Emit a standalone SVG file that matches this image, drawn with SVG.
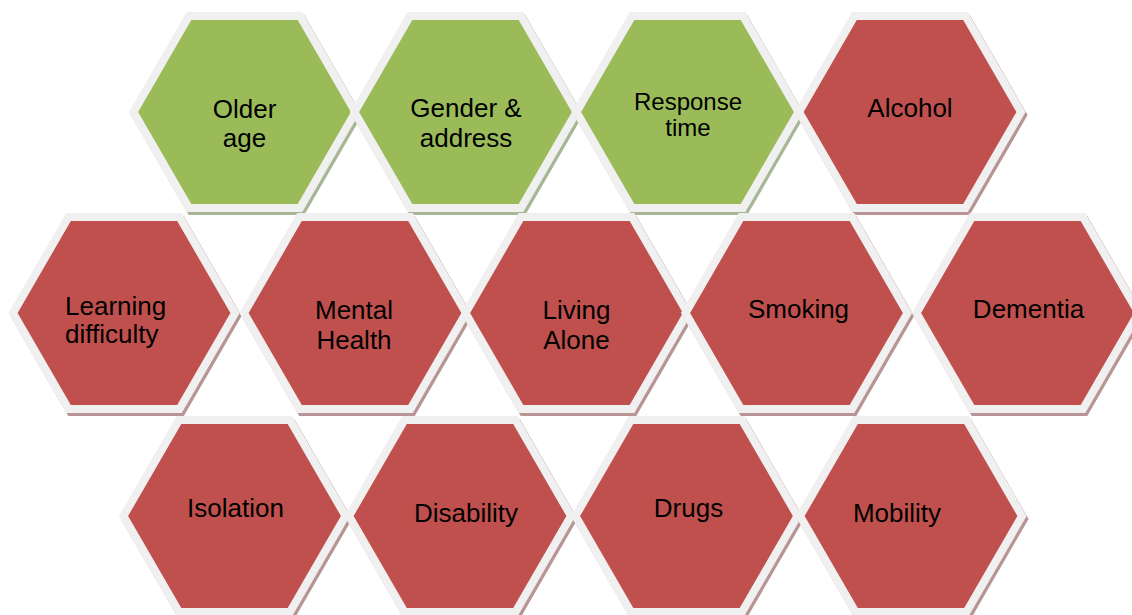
<svg xmlns="http://www.w3.org/2000/svg" xmlns:xlink="http://www.w3.org/1999/xlink" width="1132" height="615" viewBox="0 0 1132 615">
  <style>
    .face { stroke: #f0f0f0; stroke-width: 8; stroke-linejoin: miter; }
    .shadow { stroke-width: 8; stroke-linejoin: miter; }
    .face.green { fill: #9bbb59; }
    .face.red { fill: #c0504d; }
    .shadow.green { fill: #a7b695; stroke: #a7b695; }
    .shadow.red { fill: #b89494; stroke: #b89494; }
    text { font-family: "Liberation Sans", Arial, sans-serif; font-size: 26px; fill: #000; text-anchor: middle; }
    text.small { font-size: 24px; }
    text.left { text-anchor: start; }
  </style>
  <defs>
    <!-- flat-topped hexagon, centred on the origin -->
    <polygon id="hex" points="-55.5,-96 55.5,-96 111,0 55.5,96 -55.5,96 -111,0"/>
  </defs>
  <rect width="1132" height="615" fill="#ffffff"/>

  <!-- top row -->
  <g id="older-age" transform="translate(244.5,112)">
    <use xlink:href="#hex" class="shadow green" transform="translate(2,3)"/>
    <use xlink:href="#hex" class="face green"/>
    <text x="0" y="6">Older</text>
    <text x="0" y="35">age</text>
  </g>
  <g id="gender-address" transform="translate(465.5,112)">
    <use xlink:href="#hex" class="shadow green" transform="translate(2,3)"/>
    <use xlink:href="#hex" class="face green"/>
    <text x="0.5" y="5">Gender &amp;</text>
    <text x="0.5" y="35">address</text>
  </g>
  <g id="response-time" transform="translate(687.5,112)">
    <use xlink:href="#hex" class="shadow green" transform="translate(2,3)"/>
    <use xlink:href="#hex" class="face green"/>
    <text class="small" x="0.5" y="-2">Response</text>
    <text class="small" x="0.5" y="24">time</text>
  </g>
  <g id="alcohol" transform="translate(910,112)">
    <use xlink:href="#hex" class="shadow red" transform="translate(2,3)"/>
    <use xlink:href="#hex" class="face red"/>
    <text x="0" y="5">Alcohol</text>
  </g>

  <!-- middle row -->
  <g id="learning-difficulty" transform="translate(124,313)">
    <use xlink:href="#hex" class="shadow red" transform="translate(2,3)"/>
    <use xlink:href="#hex" class="face red"/>
    <text class="left" x="-59" y="2">Learning</text>
    <text class="left" x="-59" y="30">difficulty</text>
  </g>
  <g id="mental-health" transform="translate(355,313)">
    <use xlink:href="#hex" class="shadow red" transform="translate(2,3)"/>
    <use xlink:href="#hex" class="face red"/>
    <text x="-1" y="6">Mental</text>
    <text x="-1" y="36">Health</text>
  </g>
  <g id="living-alone" transform="translate(576.5,313)">
    <use xlink:href="#hex" class="shadow red" transform="translate(2,3)"/>
    <use xlink:href="#hex" class="face red"/>
    <text x="0" y="6">Living</text>
    <text x="0" y="36">Alone</text>
  </g>
  <g id="smoking" transform="translate(796.5,313)">
    <use xlink:href="#hex" class="shadow red" transform="translate(2,3)"/>
    <use xlink:href="#hex" class="face red"/>
    <text x="2" y="5">Smoking</text>
  </g>
  <g id="dementia" transform="translate(1027.5,313)">
    <use xlink:href="#hex" class="shadow red" transform="translate(2,3)"/>
    <use xlink:href="#hex" class="face red"/>
    <text x="1" y="5">Dementia</text>
  </g>

  <!-- bottom row -->
  <g id="isolation" transform="translate(234.5,516)">
    <use xlink:href="#hex" class="shadow red" transform="translate(2,3)"/>
    <use xlink:href="#hex" class="face red"/>
    <text x="1" y="1">Isolation</text>
  </g>
  <g id="disability" transform="translate(460,516)">
    <use xlink:href="#hex" class="shadow red" transform="translate(2,3)"/>
    <use xlink:href="#hex" class="face red"/>
    <text x="6" y="6">Disability</text>
  </g>
  <g id="drugs" transform="translate(686.5,516)">
    <use xlink:href="#hex" class="shadow red" transform="translate(2,3)"/>
    <use xlink:href="#hex" class="face red"/>
    <text x="2" y="1">Drugs</text>
  </g>
  <g id="mobility" transform="translate(911,516)">
    <use xlink:href="#hex" class="shadow red" transform="translate(2,3)"/>
    <use xlink:href="#hex" class="face red"/>
    <text x="-14" y="6">Mobility</text>
  </g>

  <!-- no connectors between the tiles -->
  <g id="connectors"/>
</svg>
